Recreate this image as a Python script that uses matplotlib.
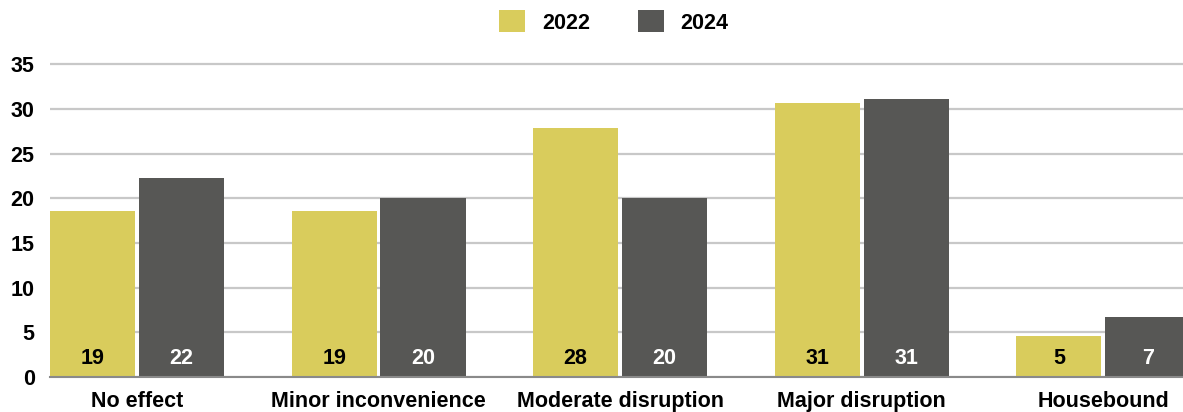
import numpy as np
import matplotlib
matplotlib.use("Agg")
import matplotlib.pyplot as plt
from matplotlib.patches import Patch

plt.rcParams['font.family'] = ['Liberation Sans', 'DejaVu Sans']

# data
categories = ["No effect", "Minor inconvenience", "Moderate disruption", "Major disruption", "Housebound"]
vals_2022 = [18.6, 18.6, 27.9, 30.6, 4.6]
vals_2024 = [22.3, 20.0, 20.0, 31.1, 6.7]
series_names = ["2022", "2024"]

yellow = "#d9cc5c"
dark = "#575755"
fs = 15.5

fig = plt.figure(figsize=(11.83, 4.12), dpi=100)
ax = fig.add_axes([50/1183, 35/412, 1 - 50/1183, 36*8.94/412])

x = np.arange(len(categories))
w = 0.352
off = 0.184
b1 = ax.bar(x - off, vals_2022, w, color=yellow, zorder=2)
b2 = ax.bar(x + off, vals_2024, w, color=dark, zorder=2)

# value labels at bottom of bars
for bars, vals, col in [(b1, vals_2022, "black"), (b2, vals_2024, "white")]:
    for r, v in zip(bars, vals):
        ax.annotate("%.0f" % v, (r.get_x() + r.get_width() / 2, 0),
                    xytext=(0, 5.8), textcoords="offset points",
                    ha="center", va="bottom", fontsize=fs, fontweight="bold",
                    color=col, zorder=3)

ax.set_xlim(-0.36, 4.33)
ax.set_ylim(0, 36)
ax.set_yticks(range(0, 36, 5))
ax.set_xticks(x)
ax.set_xticklabels(categories)
ax.yaxis.grid(True, color="#c8c8c8", linewidth=1.6, zorder=0)
ax.set_axisbelow(True)
for s in ["top", "right", "left"]:
    ax.spines[s].set_visible(False)
ax.spines["bottom"].set_color("#8a8a8a")
ax.spines["bottom"].set_linewidth(1.5)
ax.spines["bottom"].set_zorder(3)
ax.tick_params(axis="both", length=0, labelsize=fs)
ax.tick_params(axis="y", pad=11)
ax.tick_params(axis="x", pad=10)
for lbl in ax.get_xticklabels() + ax.get_yticklabels():
    lbl.set_fontweight("bold")

handles = [Patch(facecolor=yellow, label=series_names[0]),
           Patch(facecolor=dark, label=series_names[1])]
leg = fig.legend(handles=handles, loc="center", bbox_to_anchor=(614/1183, 1 - 22/412),
                 ncol=2, frameon=False, fontsize=fs, handlelength=1.2, handleheight=1.2,
                 handletextpad=0.8, columnspacing=2.2)
for t in leg.get_texts():
    t.set_fontweight("bold")

fig.savefig("out.png", dpi=100)
